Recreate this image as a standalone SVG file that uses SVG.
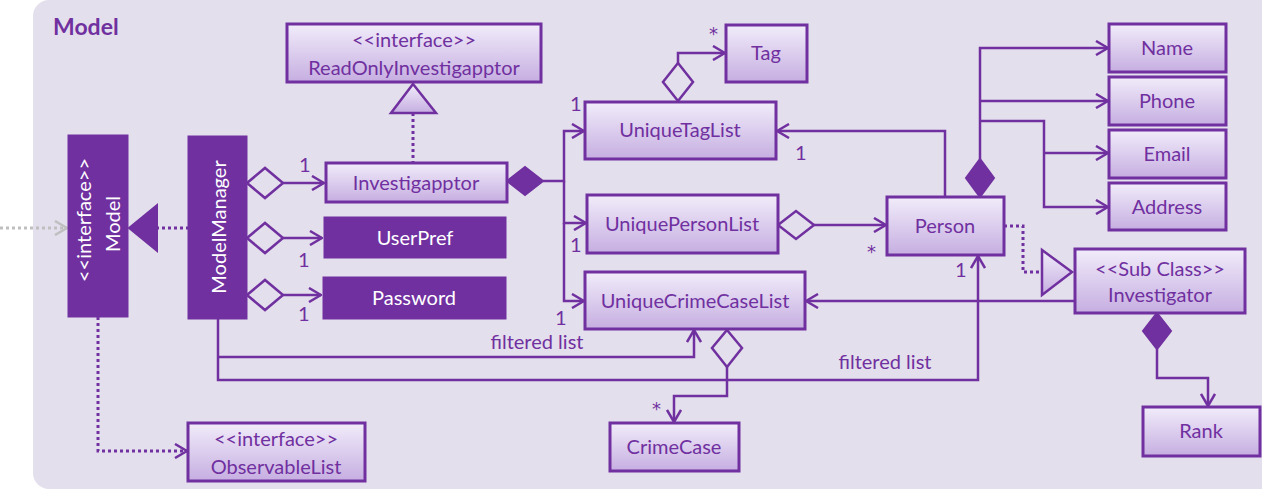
<svg xmlns="http://www.w3.org/2000/svg" width="1262" height="492" viewBox="0 0 1262 492">
<defs>
<linearGradient id="g" x1="0" y1="0" x2="0" y2="1">
<stop offset="0" stop-color="#F1ECFA"/>
<stop offset="1" stop-color="#C6AEE1"/>
</linearGradient>
<marker id="arr" viewBox="0 0 14 16" refX="13" refY="8" markerWidth="14" markerHeight="16" markerUnits="userSpaceOnUse" orient="auto">
<path d="M1,1 L13,8 L1,15" fill="none" stroke="#7030A0" stroke-width="2.5"/>
</marker>
<marker id="arrg" viewBox="0 0 14 16" refX="13" refY="8" markerWidth="14" markerHeight="16" markerUnits="userSpaceOnUse" orient="auto">
<path d="M1,1 L13,8 L1,15" fill="none" stroke="#BFBFBF" stroke-width="2.5"/>
</marker>
</defs>
<style>
.box{fill:url(#g);stroke:#7030A0;stroke-width:3}
.dark{fill:#7030A0;stroke:#7030A0;stroke-width:1}
.t{font-family:Lato,"Liberation Sans",sans-serif;font-size:20px;fill:#7030A0;text-anchor:middle}
.tw{font-family:Lato,"Liberation Sans",sans-serif;font-size:20px;fill:#FFFFFF;text-anchor:middle}
.lbl{font-family:Lato,"Liberation Sans",sans-serif;font-size:20px;fill:#7030A0}
.ast{font-family:"DejaVu Sans",sans-serif;font-size:18px;fill:#7030A0}
.ln{fill:none;stroke:#7030A0;stroke-width:2.5}
.dot{fill:none;stroke:#7030A0;stroke-width:3;stroke-dasharray:3 3}
.hd{fill:#E4DFEC;stroke:#7030A0;stroke-width:2.5}
.fd{fill:#7030A0;stroke:#7030A0;stroke-width:2}
.tri{fill:url(#g);stroke:#7030A0;stroke-width:2.5}
</style>
<rect x="33" y="0" width="1244" height="489" rx="16" fill="#E4DFEC"/>
<text x="53" y="35" style="font-family:Lato,'Liberation Sans',sans-serif;font-size:23px;font-weight:bold;fill:#7030A0">Model</text>

<g id="connectors">
<path d="M0,228 H67" fill="none" stroke="#BFBFBF" stroke-width="3" stroke-dasharray="3 3" marker-end="url(#arrg)"/>
<path class="dot" d="M156,228 H188"/>
<polygon class="fd" points="129,228 157,205 157,251"/>
<polygon class="hd" points="247,183 265,168 283,183 265,198"/>
<path class="ln" d="M283,183 H324" marker-end="url(#arr)"/>
<polygon class="hd" points="247,238 265,223 283,238 265,253"/>
<path class="ln" d="M283,238 H322" marker-end="url(#arr)"/>
<polygon class="hd" points="247,295 265,280 283,295 265,310"/>
<path class="ln" d="M283,295 H321" marker-end="url(#arr)"/>
<path class="dot" d="M413,113 V162"/>
<polygon class="tri" points="413,84 391,113 436,113"/>
<polygon class="fd" points="507,181 525,167 543,181 525,195"/>
<path class="ln" d="M543,181 H564 V131 H584" marker-end="url(#arr)"/>
<path class="ln" d="M564,181 V223 H586" marker-end="url(#arr)"/>
<path class="ln" d="M564,223 V301 H584" marker-end="url(#arr)"/>
<polygon class="hd" points="678,101 693,82 678,63 663,82"/>
<path class="ln" d="M678,63 V53 H725" marker-end="url(#arr)"/>
<polygon class="hd" points="778,225 796,211 814,225 796,239"/>
<path class="ln" d="M814,225 H886" marker-end="url(#arr)"/>
<path class="ln" d="M945,197 V131 H777" marker-end="url(#arr)"/>
<polygon class="fd" points="980,197 994,178 980,159 966,178"/>
<path class="ln" d="M980,159 V48 H1108" marker-end="url(#arr)"/>
<path class="ln" d="M980,101 H1108" marker-end="url(#arr)"/>
<path class="ln" d="M980,121 H1044 V207 H1108" marker-end="url(#arr)"/>
<path class="ln" d="M1044,153 H1108" marker-end="url(#arr)"/>
<path class="dot" d="M1004,226 H1023 V272 H1042"/>
<polygon class="tri" points="1042,250 1042,295 1072,272"/>
<path class="ln" d="M1075,301 H806" marker-end="url(#arr)"/>
<polygon class="hd" points="727,330 742,348 727,367 712,348"/>
<path class="ln" d="M727,367 V396 H674 V422" marker-end="url(#arr)"/>
<path class="ln" d="M218,319 V380 H978 V256" marker-end="url(#arr)"/>
<path class="ln" d="M218,357 H694 V330" marker-end="url(#arr)"/>
<polygon class="fd" points="1157,313 1171,331 1157,349 1143,331"/>
<path class="ln" d="M1157,349 V378 H1208 V406" marker-end="url(#arr)"/>
<path class="dot" d="M98,317 V451 H187" marker-end="url(#arr)"/>
<text class="lbl" x="299" y="172">1</text>
<text class="lbl" x="298" y="267">1</text>
<text class="lbl" x="298" y="321">1</text>
<text class="lbl" x="570" y="111">1</text>
<text class="lbl" x="570" y="252">1</text>
<text class="lbl" x="555" y="325">1</text>
<text class="lbl" x="795" y="160">1</text>
<text class="lbl" x="955" y="277">1</text>
<text class="ast" x="709" y="40">*</text>
<text class="ast" x="867" y="258">*</text>
<text class="ast" x="652" y="415">*</text>
<text class="t" x="537" y="349">filtered list</text>
<text class="t" x="885" y="369">filtered list</text>
</g>

<g id="Model">
<rect class="dark" x="68" y="135" width="60" height="182"/>
<text class="tw" transform="translate(83,220) rotate(-90)" dominant-baseline="central">&lt;&lt;interface&gt;&gt;</text>
<text class="tw" transform="translate(112,224) rotate(-90)" dominant-baseline="central">Model</text>
</g>
<g id="ModelManager">
<rect class="dark" x="188" y="136" width="59" height="183"/>
<text class="tw" transform="translate(218,227) rotate(-90)" dominant-baseline="central">ModelManager</text>
</g>
<g id="ReadOnlyInvestigapptor">
<rect class="box" x="287" y="24" width="254" height="58"/>
<text class="t" x="414" y="47">&lt;&lt;interface&gt;&gt;</text>
<text class="t" x="414" y="75">ReadOnlyInvestigapptor</text>
</g>
<g id="Investigapptor">
<rect class="box" x="326" y="163" width="181" height="39"/>
<text class="t" x="416" y="190">Investigapptor</text>
</g>
<g id="UserPref">
<rect class="dark" x="324" y="217" width="182" height="41"/>
<text class="tw" x="415" y="245">UserPref</text>
</g>
<g id="Password">
<rect class="dark" x="323" y="277" width="183" height="42"/>
<text class="tw" x="414" y="305">Password</text>
</g>
<g id="Tag">
<rect class="box" x="726" y="25" width="81" height="57"/>
<text class="t" x="766" y="60">Tag</text>
</g>
<g id="UniqueTagList">
<rect class="box" x="585" y="102" width="191" height="57"/>
<text class="t" x="680" y="137">UniqueTagList</text>
</g>
<g id="UniquePersonList">
<rect class="box" x="587" y="195" width="191" height="58"/>
<text class="t" x="682" y="231">UniquePersonList</text>
</g>
<g id="UniqueCrimeCaseList">
<rect class="box" x="585" y="272" width="220" height="57"/>
<text class="t" x="695" y="308">UniqueCrimeCaseList</text>
</g>
<g id="CrimeCase">
<rect class="box" x="610" y="423" width="129" height="48"/>
<text class="t" x="674" y="454">CrimeCase</text>
</g>
<g id="Person">
<rect class="box" x="887" y="197" width="117" height="58"/>
<text class="t" x="945" y="233">Person</text>
</g>
<g id="Name">
<rect class="box" x="1109" y="24" width="117" height="48"/>
<text class="t" x="1167" y="55">Name</text>
</g>
<g id="Phone">
<rect class="box" x="1109" y="77" width="117" height="48"/>
<text class="t" x="1167" y="108">Phone</text>
</g>
<g id="Email">
<rect class="box" x="1109" y="130" width="117" height="48"/>
<text class="t" x="1167" y="161">Email</text>
</g>
<g id="Address">
<rect class="box" x="1109" y="183" width="117" height="47"/>
<text class="t" x="1167" y="214">Address</text>
</g>
<g id="Investigator">
<rect class="box" x="1075" y="249" width="170" height="64"/>
<text class="t" x="1160" y="276">&lt;&lt;Sub Class&gt;&gt;</text>
<text class="t" x="1160" y="302">Investigator</text>
</g>
<g id="Rank">
<rect class="box" x="1143" y="407" width="117" height="49"/>
<text class="t" x="1201" y="438">Rank</text>
</g>
<g id="ObservableList">
<rect class="box" x="188" y="423" width="177" height="58"/>
<text class="t" x="276" y="446">&lt;&lt;interface&gt;&gt;</text>
<text class="t" x="276" y="474">ObservableList</text>
</g>
</svg>
